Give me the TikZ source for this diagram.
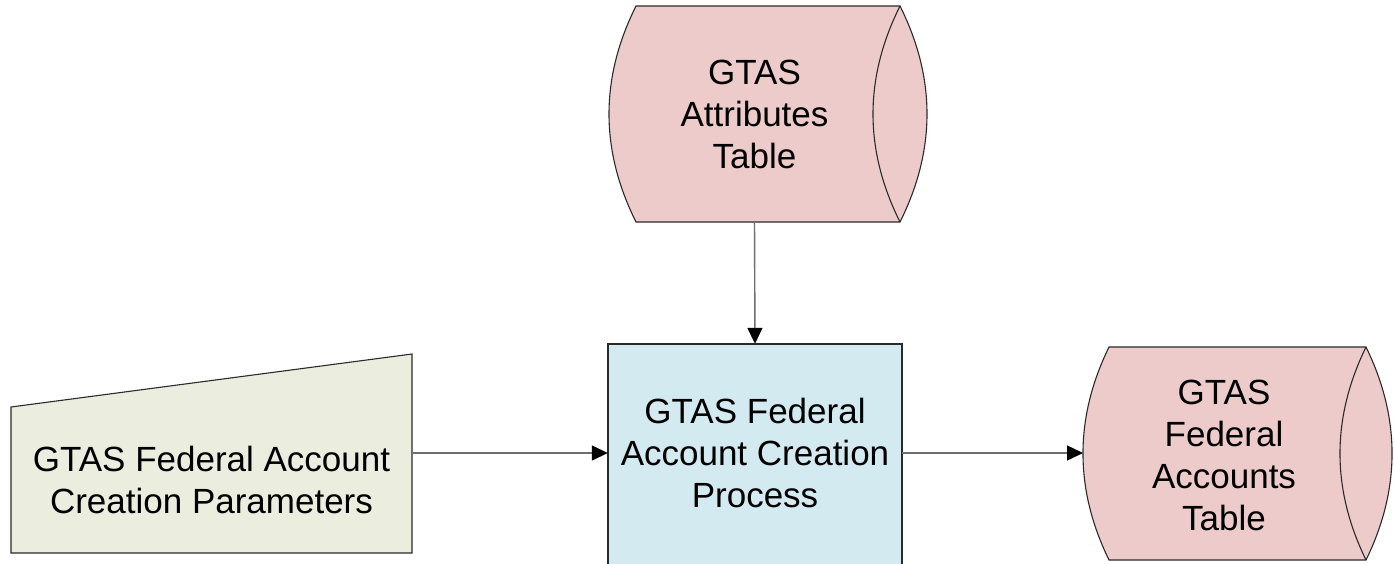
\documentclass[tikz,border=0pt]{standalone}
\usepackage{fontspec}
\setmainfont{Liberation Sans}
\usetikzlibrary{arrows.meta}
\definecolor{cylpink}{HTML}{EDCBCB}
\definecolor{procblue}{HTML}{D2EAF0}
\definecolor{paramgreen}{HTML}{EBEEDE}
\definecolor{edgegray}{HTML}{6E6E6E}
\definecolor{bordergray}{HTML}{2A2A2A}
\tikzset{
  shapeline/.style={draw=bordergray, line width=1.1pt},
  lbl/.style={align=center, inner sep=0pt, font=\fontsize{35}{42}\selectfont},
  conn/.style={draw=edgegray, line width=1.4pt, -{Triangle[length=16pt,width=15pt,color=black]}},
}
\begin{document}
\begin{tikzpicture}[x=1pt,y=-1pt]
\useasboundingbox (0,0) rectangle (1394,563);
\clip (0,0) rectangle (1394,563);
% top cylinder: GTAS Attributes Table
\path[shapeline, fill=cylpink]
  (636,6) -- (900,6)
  .. controls (936,78) and (936,150) .. (900,222)
  -- (636,222)
  .. controls (600,150) and (600,78) .. (636,6) -- cycle;
\draw[shapeline] (900,6) .. controls (864,78) and (864,150) .. (900,222);
\node[lbl, minimum width=237pt, minimum height=216pt] (attr) at (754.5,114) {GTAS\\Attributes\\Table};
% bottom-right cylinder: GTAS Federal Accounts Table
\path[shapeline, fill=cylpink]
  (1109,347) -- (1366,347)
  .. controls (1400.7,418) and (1400.7,489) .. (1366,560)
  -- (1109,560)
  .. controls (1074.3,489) and (1074.3,418) .. (1109,347) -- cycle;
\draw[shapeline] (1366,347) .. controls (1331.3,418) and (1331.3,489) .. (1366,560);
\node[lbl, minimum width=230pt, minimum height=213pt] (fedacc) at (1224,455) {GTAS\\Federal\\Accounts\\Table};
\coordinate (fedin) at (1083,453);
% process box (open at the bottom edge of the picture)
\path[shapeline, fill=procblue] (608,580) |- (902,344) -- (902,580);
\node[lbl, minimum width=294pt, minimum height=218pt] (proc) at (755,453) {GTAS Federal\\Account Creation\\Process};
% manual input: parameters
\path[shapeline, fill=paramgreen] (11,553) -- (11,407) -- (412,354) -- (412,553) -- cycle;
\node[lbl, minimum width=401pt, minimum height=146pt] (param) at (211.5,480) {GTAS Federal Account\\Creation Parameters};
% connectors
\draw[conn] (attr.south) -- (proc.north);
\draw[conn] (param.east |- proc.west) -- (proc.west);
\draw[conn] (proc.east) -- (fedin);
\end{tikzpicture}
\end{document}
